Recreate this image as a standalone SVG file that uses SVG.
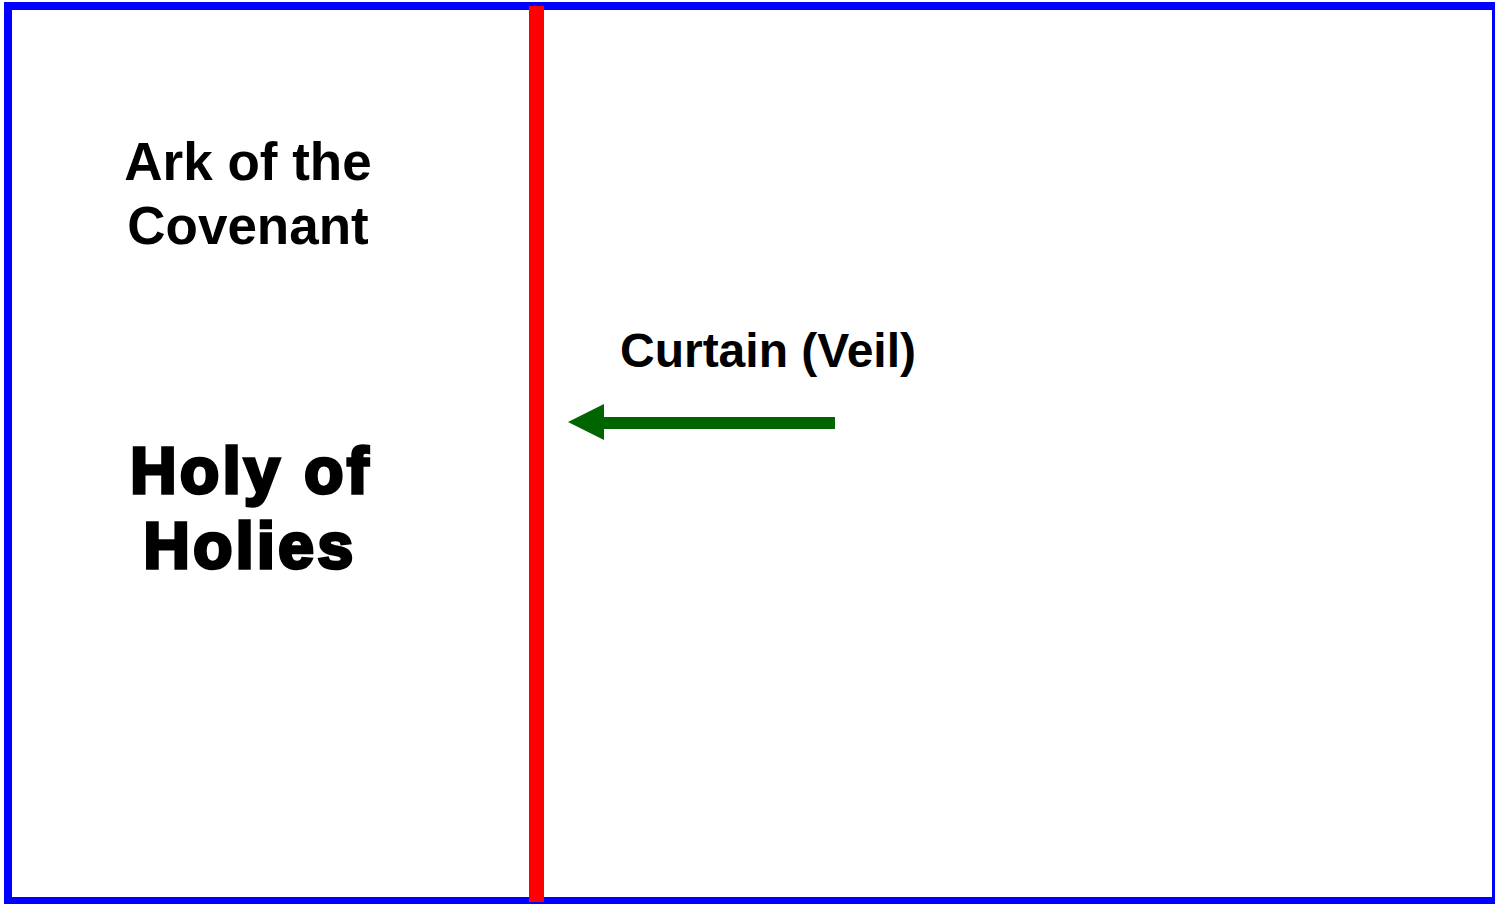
<svg xmlns="http://www.w3.org/2000/svg" width="1495" height="904" viewBox="0 0 1495 904">
<style>
.t{font-family:"Liberation Sans",Arial,sans-serif;font-weight:bold;fill:#000;text-anchor:middle}
.big{stroke:#000;stroke-width:3.5;letter-spacing:3.5px}
</style>
<rect width="1495" height="904" fill="#fff"/>
<g id="frame">
<rect x="8" y="6" width="1488" height="895" fill="none" stroke="#0000ff" stroke-width="8"/>
</g>
<g id="curtain">
<rect x="529" y="6" width="15" height="896" fill="#ff0000"/>
</g>
<g id="labels">
<g id="ark"><text class="t" x="248" y="180" font-size="53">Ark of the</text><text class="t" x="248" y="244" font-size="53">Covenant</text></g>
<g id="holy"><text class="t big" x="251" y="493" font-size="64">Holy of</text><text class="t big" x="250" y="568" font-size="64">Holies</text></g>
<g id="veil"><text class="t" x="768" y="367" font-size="48">Curtain (Veil)</text></g>
</g>
<g id="connectors">
<path d="M835,423 L602,423" stroke="#006400" stroke-width="12" fill="none"/>
<path d="M568,422 L604,404 L604,440 Z" fill="#006400"/>
</g>
</svg>
